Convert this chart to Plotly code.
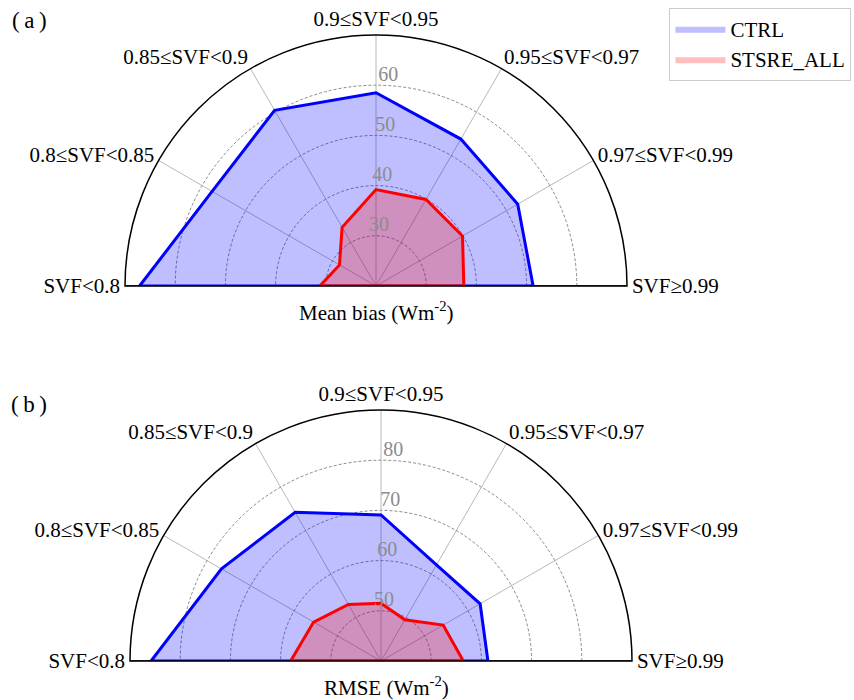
import plotly.graph_objects as go

# Angular categories (counter-clockwise from 0 deg)
categories = ["SVF≥0.99", "0.97≤SVF<0.99", "0.95≤SVF<0.97", "0.9≤SVF<0.95",
              "0.85≤SVF<0.9", "0.8≤SVF<0.85", "SVF<0.8"]
angles = [0, 30, 60, 90, 120, 150, 180]

# (a) Mean bias (W m-2)
bias_ctrl = [51.3, 52.6, 53.8, 58.5, 60.4, 57.7, 67.1]
bias_stsre = [37.5, 39.9, 39.9, 39.2, 33.5, 28.4, 31.2]
bias_ticks = [30, 40, 50, 60]
bias_range = [20, 70]

# (b) RMSE (W m-2)
rmse_ctrl = [61.3, 62.8, 62.1, 69.1, 74.2, 76.7, 85.8]
rmse_stsre = [56.4, 54.3, 49.5, 51.5, 53.0, 55.5, 58.0]
rmse_ticks = [50, 60, 70, 80]
rmse_range = [40, 90]

series_names = ["CTRL", "STSRE_ALL"]
line_colors = ["#0000ff", "#ff0000"]
fill_colors = ["rgba(0,0,255,0.25)", "rgba(255,0,0,0.25)"]

SERIF = "Liberation Serif, Times New Roman, serif"

fig = go.Figure()


def add_panel(sub, ctrl, stsre, ticks, rng, legend):
    # bottom frame line (diameter of the half disc)
    fig.add_trace(go.Scatterpolar(
        theta=[angles[0], angles[-1]], r=[rng[1], rng[1]], mode="lines",
        line=dict(color="black", width=1.5), showlegend=False,
        hoverinfo="skip", subplot=sub))
    for vals, name, lc, fc in zip([ctrl, stsre], series_names, line_colors, fill_colors):
        th = angles + [angles[0]]
        rr = vals + [vals[0]]
        fig.add_trace(go.Scatterpolar(
            theta=th, r=rr, mode="lines", fill="toself", fillcolor=fc,
            line=dict(color=fc, width=0), name=name, legendgroup=name,
            showlegend=legend, subplot=sub))
        fig.add_trace(go.Scatterpolar(
            theta=th, r=rr, mode="lines", line=dict(color=lc, width=3),
            name=name, legendgroup=name, showlegend=False, subplot=sub))
    # radial tick labels
    fig.add_trace(go.Scatterpolar(
        theta=[86.5] * len(ticks), r=ticks, mode="text",
        text=[str(t) for t in ticks], textposition="top center",
        textfont=dict(family=SERIF, size=20, color="#8c8c8c"),
        showlegend=False, hoverinfo="skip", subplot=sub))


add_panel("polar", bias_ctrl, bias_stsre, bias_ticks, bias_range, True)
add_panel("polar2", rmse_ctrl, rmse_stsre, rmse_ticks, rmse_range, False)


def polar_cfg(dx, dy, rng, ticks):
    return dict(
        domain=dict(x=dx, y=dy),
        sector=[0, 180],
        bgcolor="white",
        radialaxis=dict(range=rng, tickvals=ticks, showticklabels=False, ticks="",
                        showline=False, gridcolor="#8a8a8a", griddash="3px,2px",
                        gridwidth=0.8, angle=90),
        angularaxis=dict(rotation=0, direction="counterclockwise",
                         tickvals=angles, ticktext=categories, ticks="",
                         showline=True, linecolor="black", linewidth=1.5,
                         gridcolor="#b8b8b8", gridwidth=1,
                         tickfont=dict(family=SERIF, size=21, color="black")),
    )


def label(text, x, y, size=21):
    return dict(text=text, x=x / W, y=1 - y / H, xref="paper", yref="paper",
                xanchor="center", yanchor="middle", showarrow=False,
                font=dict(family=SERIF, size=size, color="black"))


W, H = 854, 700
fig.update_layout(
    width=W, height=H,
    margin=dict(l=0, r=0, t=0, b=0),
    paper_bgcolor="white",
    font=dict(family=SERIF, size=21, color="black"),
    polar=polar_cfg([125 / W, 627 / W], [1 - 286 / H, 1 - 35 / H], bias_range, bias_ticks),
    polar2=polar_cfg([130 / W, 632 / W], [1 - 661 / H, 1 - 410 / H], rmse_range, rmse_ticks),
    legend=dict(x=0.997, y=0.989, xanchor="right", yanchor="top",
                bordercolor="#cccccc", borderwidth=1, bgcolor="white",
                font=dict(family=SERIF, size=21), itemwidth=50, tracegroupgap=0),
    annotations=[
        label("Mean bias (Wm<sup>-2</sup>)", 376, 311),
        label("RMSE (Wm<sup>-2</sup>)", 386, 686),
        label("(\u2009a\u2009)", 29, 20, 23),
        label("(\u2009b\u2009)", 29, 404, 23),
    ],
)

fig.write_html("out.html", config={"displayModeBar": False},
               post_script="document.body.style.margin='0';document.body.style.overflow='hidden';")
